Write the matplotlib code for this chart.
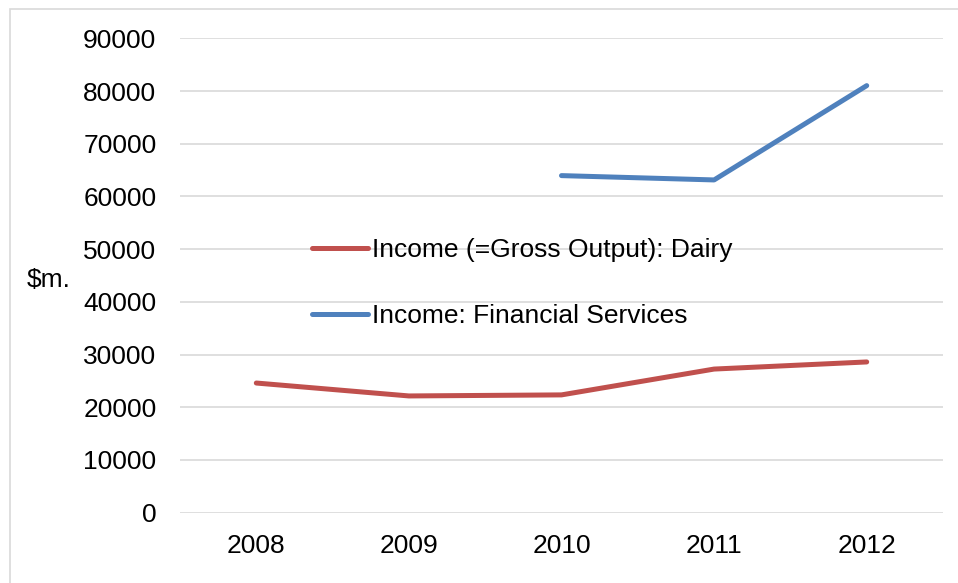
import matplotlib
matplotlib.use("Agg")
import matplotlib.pyplot as plt
from matplotlib.patches import Rectangle
import numpy as np

years = ["2008", "2009", "2010", "2011", "2012"]
dairy = [24600, 22150, 22350, 27250, 28600]
financial = [np.nan, np.nan, 63950, 63130, 81020]
label_dairy = "Income (=Gross Output): Dairy"
label_fin = "Income: Financial Services"
yticks = list(range(0, 90001, 10000))

plt.rcParams['font.family'] = ['Liberation Sans', 'DejaVu Sans']
FS = 19

W, H = 958, 583
fig = plt.figure(figsize=(W / 100, H / 100), dpi=100)
ax = fig.add_axes([180 / W, 1 - 512.7 / H, (943 - 180) / W, (512.7 - 38.3) / H])

x = np.arange(len(years))
ax.plot(x, dairy, color="#C0504D", lw=3.6, solid_capstyle="round", solid_joinstyle="round", label=label_dairy)
ax.plot(x, financial, color="#4F81BD", lw=3.6, solid_capstyle="round", solid_joinstyle="round", label=label_fin)

ax.set_xlim(-0.5, len(years) - 0.5)
ax.set_ylim(0, 90000)
ax.set_xticks(x)
ax.set_xticklabels(years)
ax.set_yticks(yticks)
ax.set_yticklabels([str(v) for v in yticks])
ax.tick_params(axis="both", length=0, labelsize=FS)
ax.tick_params(axis="y", pad=17)
ax.tick_params(axis="x", pad=15)
ax.grid(axis="y", color="#D9D9D9", lw=1.2)
ax.set_axisbelow(True)
for s in ax.spines.values():
    s.set_visible(False)

fig.text(27 / W, 1 - 280 / H, "$m.", fontsize=FS, ha="left", va="center")

leg = ax.legend(loc="upper left", bbox_to_anchor=(312 / W, 1 - 238 / H), bbox_transform=fig.transFigure,
                frameon=False, fontsize=FS, handlelength=2.12, handletextpad=0.15, labelspacing=1.6,
                borderpad=0, borderaxespad=0)
for line in leg.get_lines():
    line.set_linewidth(3.6)

fig.patches.append(Rectangle((10 / W, -0.1), 1.2, 1 - 9.5 / H + 0.1, transform=fig.transFigure,
                             fill=False, edgecolor="#D9D9D9", lw=1.2))

fig.savefig("out.png", dpi=100)
